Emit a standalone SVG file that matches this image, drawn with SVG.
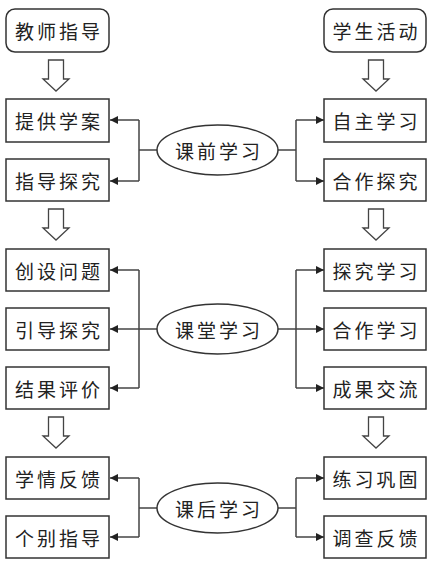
<svg xmlns="http://www.w3.org/2000/svg" width="433" height="561" viewBox="0 0 433 561">
<style>
.box{fill:#fff;stroke:#333;stroke-width:1.5}
.hollow{fill:#fff;stroke:#444;stroke-width:1.3;stroke-linejoin:miter}
.ln{fill:none;stroke:#444;stroke-width:1.5}
.arr{marker-end:url(#ah)}
text{font-family:"Noto Sans CJK SC","Noto Sans CJK JP",sans-serif;font-size:19px;letter-spacing:3px;fill:#222;text-anchor:middle;dominant-baseline:central}
</style>
<defs>
<marker id="ah" markerUnits="userSpaceOnUse" markerWidth="9" markerHeight="8" refX="8" refY="4" orient="auto">
<path d="M0,0 L8,4 L0,8 Z" fill="#222"/>
</marker>
<path id="harrow" d="M-7.5,0 H7.5 V19 H13 L0,31 L-13,19 H-7.5 Z"/>
</defs>
<rect width="433" height="561" fill="#fff"/>

<g id="connectors">
<!-- hollow arrows -->
<use href="#harrow" class="hollow" x="56" y="60"/>
<use href="#harrow" class="hollow" x="376" y="60"/>
<use href="#harrow" class="hollow" x="56" y="209"/>
<use href="#harrow" class="hollow" x="376" y="209"/>
<use href="#harrow" class="hollow" x="56" y="417"/>
<use href="#harrow" class="hollow" x="376" y="417"/>
<!-- pre-class -->
<path class="ln" d="M157,150 H139 M139,120 V181 M278,150 H296 M296,120 V181"/>
<path class="ln arr" d="M139,120 H110"/>
<path class="ln arr" d="M139,181 H110"/>
<path class="ln arr" d="M296,120 H324"/>
<path class="ln arr" d="M296,181 H324"/>
<!-- in-class -->
<path class="ln" d="M139,270 V388 M296,270 V388"/>
<path class="ln arr" d="M139,270 H110"/>
<path class="ln arr" d="M157,329 H110"/>
<path class="ln arr" d="M139,388 H110"/>
<path class="ln arr" d="M296,270 H324"/>
<path class="ln arr" d="M278,329 H324"/>
<path class="ln arr" d="M296,388 H324"/>
<!-- after-class -->
<path class="ln" d="M157,508 H139 M139,478 V537 M278,508 H296 M296,478 V537"/>
<path class="ln arr" d="M139,478 H110"/>
<path class="ln arr" d="M139,537 H110"/>
<path class="ln arr" d="M296,478 H324"/>
<path class="ln arr" d="M296,537 H324"/>
</g>

<g id="teacher"><rect class="box" x="6" y="9" width="103" height="43" rx="9"/><text x="59" y="30.5">教师指导</text></g>
<g id="student"><rect class="box" x="324" y="9" width="102" height="43" rx="9"/><text x="376.5" y="30.5">学生活动</text></g>

<g id="t1"><rect class="box" x="6" y="99" width="103" height="43"/><text x="59" y="120.5">提供学案</text></g>
<g id="t2"><rect class="box" x="6" y="159" width="103" height="42"/><text x="59" y="180">指导探究</text></g>
<g id="pre"><ellipse class="box" cx="217.5" cy="150" rx="60.5" ry="25"/><text x="219" y="150">课前学习</text></g>
<g id="s1"><rect class="box" x="324" y="99" width="102" height="43"/><text x="376.5" y="120.5">自主学习</text></g>
<g id="s2"><rect class="box" x="324" y="159" width="102" height="42"/><text x="376.5" y="180">合作探究</text></g>

<g id="t3"><rect class="box" x="6" y="249" width="103" height="42"/><text x="59" y="270">创设问题</text></g>
<g id="t4"><rect class="box" x="6" y="308" width="103" height="42"/><text x="59" y="329">引导探究</text></g>
<g id="t5"><rect class="box" x="6" y="367" width="103" height="42"/><text x="59" y="388">结果评价</text></g>
<g id="inclass"><ellipse class="box" cx="217.5" cy="329" rx="60.5" ry="25"/><text x="219" y="329">课堂学习</text></g>
<g id="s3"><rect class="box" x="324" y="249" width="102" height="42"/><text x="376.5" y="270">探究学习</text></g>
<g id="s4"><rect class="box" x="324" y="308" width="102" height="42"/><text x="376.5" y="329">合作学习</text></g>
<g id="s5"><rect class="box" x="324" y="367" width="102" height="42"/><text x="376.5" y="388">成果交流</text></g>

<g id="t6"><rect class="box" x="6" y="457" width="103" height="42"/><text x="59" y="478">学情反馈</text></g>
<g id="t7"><rect class="box" x="6" y="516" width="103" height="42"/><text x="59" y="537">个别指导</text></g>
<g id="after"><ellipse class="box" cx="217.5" cy="508" rx="60.5" ry="25"/><text x="219" y="508">课后学习</text></g>
<g id="s6"><rect class="box" x="324" y="457" width="102" height="42"/><text x="376.5" y="478">练习巩固</text></g>
<g id="s7"><rect class="box" x="324" y="516" width="102" height="42"/><text x="376.5" y="537">调查反馈</text></g>
</svg>
